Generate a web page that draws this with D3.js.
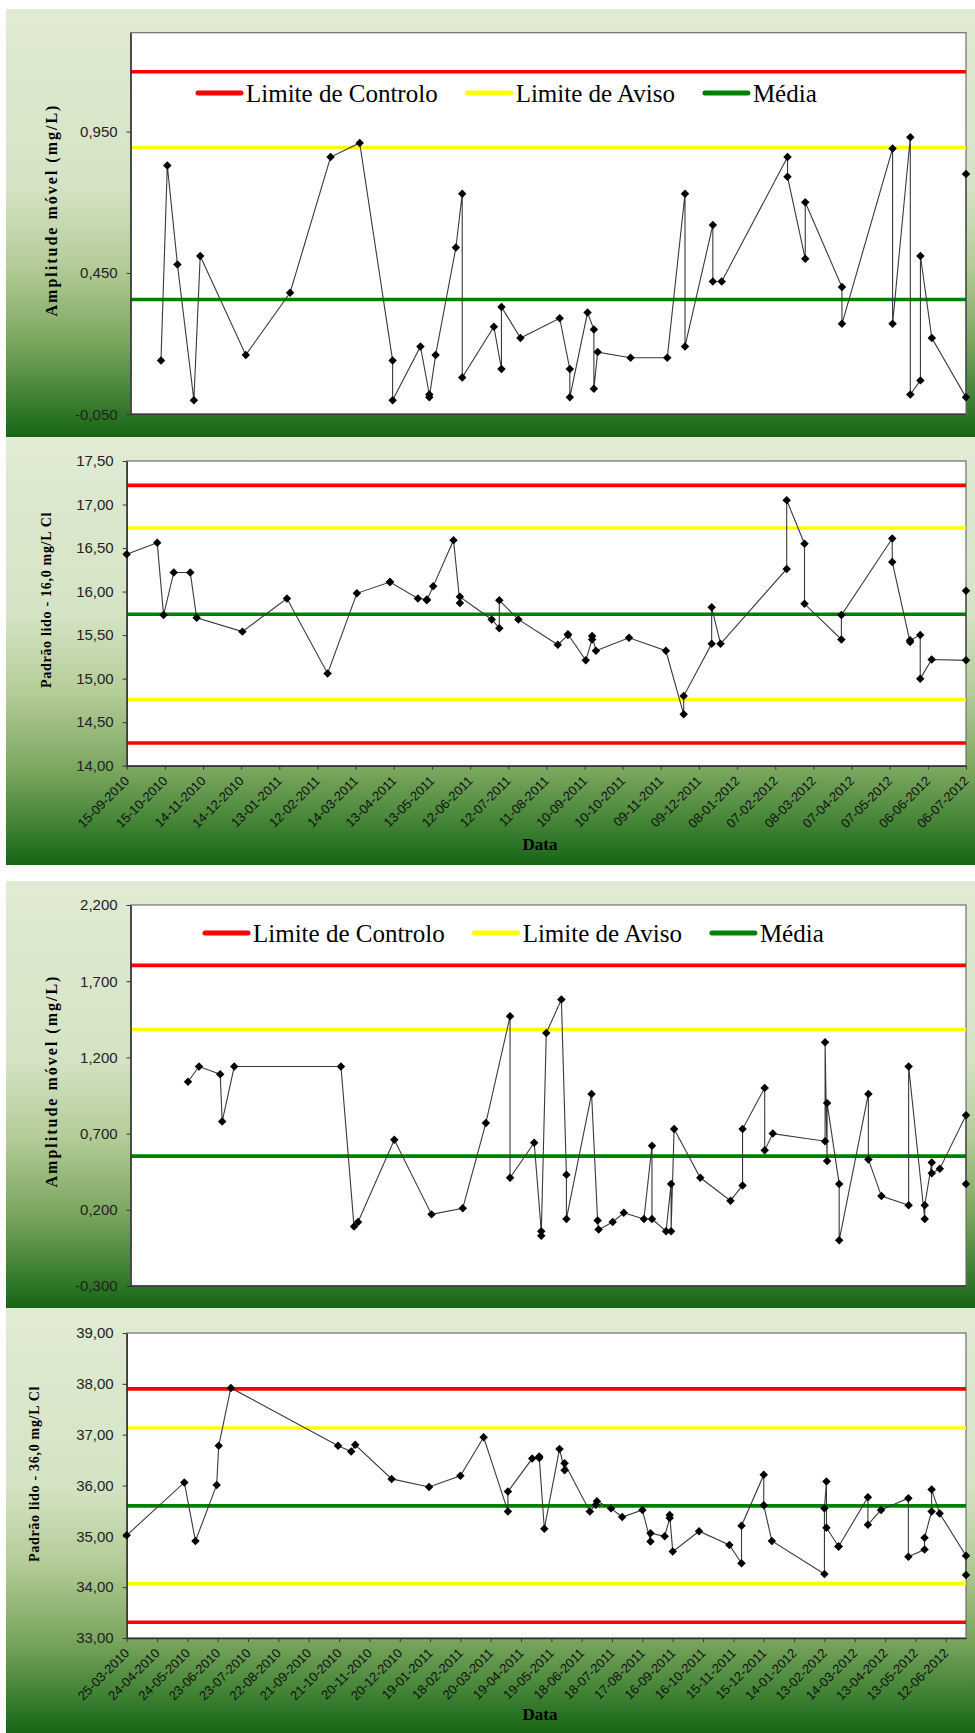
<!DOCTYPE html>
<html>
<head>
<meta charset="utf-8">
<script src="https://cdnjs.cloudflare.com/ajax/libs/d3/7.8.5/d3.min.js"></script>
<style>
  body { margin: 0; background: #fff; }
  svg { display: block; }
</style>
</head>
<body>
<div id="chart"></div>
<script>
// ---- data ----
// padrão 16,0 mg/L Cl
const dates16 = ["15-09-2010","09-10-2010","14-10-2010","22-10-2010","04-11-2010","09-11-2010","15-12-2010","19-01-2011","20-02-2011","15-03-2011",
  "10-04-2011","10-04-2011","02-05-2011","09-05-2011","09-05-2011","14-05-2011","30-05-2011","04-06-2011","04-06-2011","29-06-2011",
  "05-07-2011","05-07-2011","20-07-2011","20-08-2011","28-08-2011","28-08-2011","11-09-2011","16-09-2011","16-09-2011","19-09-2011",
  "15-10-2011","13-11-2011","27-11-2011","27-11-2011","19-12-2011","19-12-2011","26-12-2011","16-02-2012","16-02-2012","01-03-2012",
  "01-03-2012","30-03-2012","30-03-2012","09-05-2012","09-05-2012","23-05-2012","23-05-2012","31-05-2012","31-05-2012","09-06-2012",
  "06-07-2012","06-07-2012"];
const readings16 = [16.43,16.56,15.73,16.22,16.22,15.70,15.54,15.92,15.06,15.98,
  16.11,16.11,15.92,15.91,15.90,16.06,16.59,15.87,15.94,15.68,
  15.58,15.90,15.68,15.39,15.50,15.51,15.21,15.45,15.49,15.32,
  15.47,15.32,14.59,14.80,15.40,15.82,15.40,16.26,17.05,16.55,
  15.86,15.45,15.73,16.61,16.34,15.42,15.44,15.50,15.00,15.22,
  15.21,16.01];
// amplitude móvel, one per reading from the second one on
const mr16 = [0.14,0.83,0.48,0.00,0.51,0.16,0.38,0.86,0.91,0.14,
  0.00,0.19,0.02,0.01,0.16,0.54,0.73,0.08,0.26,0.11,
  0.33,0.22,0.29,0.11,0.01,0.31,0.25,0.04,0.17,0.15,
  0.15,0.73,0.19,0.62,0.42,0.42,0.86,0.79,0.50,0.70,
  0.40,0.27,0.89,0.27,0.93,0.02,0.07,0.51,0.22,0.01,
  0.80];
const ctrl16 = [14.26, 17.22], warn16 = [14.76, 16.73], mean16 = 15.74;
const ctrlMr16 = 1.162, warnMr16 = 0.894, meanMr16 = 0.356;
const yTicks16 = [14.0,14.5,15.0,15.5,16.0,16.5,17.0,17.5];
const yTicksMr16 = [-0.05, 0.45, 0.95];
const xTicks16 = ["15-09-2010","15-10-2010","14-11-2010","14-12-2010","13-01-2011","12-02-2011","14-03-2011","13-04-2011",
  "13-05-2011","12-06-2011","12-07-2011","11-08-2011","10-09-2011","10-10-2011","09-11-2011","09-12-2011",
  "08-01-2012","07-02-2012","08-03-2012","07-04-2012","07-05-2012","06-06-2012","06-07-2012"];

// padrão 36,0 mg/L Cl
const dates36 = ["25-03-2010","21-05-2010","01-06-2010","22-06-2010","24-06-2010","06-07-2010","20-10-2010","02-11-2010","06-11-2010","12-12-2010",
  "18-01-2011","18-02-2011","13-03-2011","06-04-2011","06-04-2011","30-04-2011","07-05-2011","07-05-2011","12-05-2011","27-05-2011",
  "01-06-2011","01-06-2011","26-06-2011","02-07-2011","03-07-2011","17-07-2011","28-07-2011","17-08-2011","25-08-2011","25-08-2011",
  "08-09-2011","13-09-2011","13-09-2011","16-09-2011","12-10-2011","11-11-2011","23-11-2011","23-11-2011","15-12-2011","15-12-2011",
  "23-12-2011","13-02-2012","13-02-2012","15-02-2012","15-02-2012","27-02-2012","27-02-2012","27-03-2012","27-03-2012","09-04-2012",
  "06-05-2012","06-05-2012","22-05-2012","22-05-2012","29-05-2012","29-05-2012","06-06-2012","02-07-2012","02-07-2012"];
const readings36 = [35.02,36.06,34.91,36.01,36.78,37.92,36.78,36.67,36.80,36.13,
  35.97,36.19,36.95,35.49,35.88,36.53,36.57,36.54,35.15,36.72,
  36.30,36.44,35.49,35.62,35.69,35.55,35.38,35.52,34.90,35.06,
  35.00,35.36,35.42,34.70,35.10,34.83,34.47,35.21,36.21,35.61,
  34.91,34.26,35.55,36.08,35.17,34.80,34.80,35.77,35.23,35.52,
  35.75,34.60,34.74,34.97,35.49,35.92,35.45,34.62,34.24];
const mr36 = [1.04,1.14,1.09,0.78,1.14,1.14,0.09,0.12,0.66,
  0.17,0.21,0.77,1.47,0.41,0.64,0.06,0.03,1.36,1.58,
  0.43,0.14,0.96,0.13,0.07,0.12,0.18,0.14,0.62,0.14,
  0.06,0.37,0.06,0.73,0.41,0.26,0.36,0.73,1.00,0.59,
  0.70,0.65,1.30,0.52,0.90,0.37,0.00,0.96,0.53,0.29,
  0.23,1.14,0.14,0.23,0.51,0.44,0.47,0.82,0.37];
const ctrl36 = [33.31, 37.90], warn36 = [34.07, 37.13], mean36 = 35.60;
const ctrlMr36 = 1.804, warnMr36 = 1.384, meanMr36 = 0.552;
const yTicks36 = [33,34,35,36,37,38,39];
const yTicksMr36 = [-0.3,0.2,0.7,1.2,1.7,2.2];
const xTicks36 = ["25-03-2010","24-04-2010","24-05-2010","23-06-2010","23-07-2010","22-08-2010","21-09-2010","21-10-2010",
  "20-11-2010","20-12-2010","19-01-2011","18-02-2011","20-03-2011","19-04-2011","19-05-2011","18-06-2011",
  "18-07-2011","17-08-2011","16-09-2011","16-10-2011","15-11-2011","15-12-2011","14-01-2012","13-02-2012",
  "14-03-2012","13-04-2012","13-05-2012","12-06-2012"];

const legendItems = [["Limite de Controlo", "#ff0000"], ["Limite de Aviso", "#ffff00"], ["Média", "#008000"]];

// ---- drawing ----
const W = 975, H = 1733;
const parse = d3.timeParse("%d-%m-%Y");
const pt = d3.formatLocale({decimal: ",", thousands: ".", grouping: [3], currency: ["", ""], minus: "-"});

const svg = d3.select("#chart").append("svg").attr("width", W).attr("height", H);

const grad = svg.append("defs").append("linearGradient")
  .attr("id", "bg").attr("x1", 0).attr("y1", 0).attr("x2", 0).attr("y2", 1);
[[0, "#e0ebd3"], [0.42, "#d4e3c4"], [0.6, "#b4cc98"], [0.78, "#7aa65e"], [0.9, "#448437"], [1, "#166515"]]
  .forEach(s => grad.append("stop").attr("offset", s[0]).attr("stop-color", s[1]));

function panel(p) {
  const g = svg.append("g");
  g.append("rect")
    .attr("x", 6).attr("y", p.top).attr("width", W - 6).attr("height", p.bottom - p.top)
    .attr("fill", "url(#bg)");

  const x = d3.scaleTime().domain([parse(p.dates[0]), parse(p.dates[p.dates.length - 1])]).range([p.l, p.r]);
  if (p.xStart) x.domain([parse(p.xStart), parse(p.xEnd)]);
  const y = d3.scaleLinear().domain(p.yDomain).range([p.b, p.t]);

  g.append("rect")
    .attr("x", p.l).attr("y", p.t).attr("width", p.r - p.l).attr("height", p.b - p.t)
    .attr("fill", "#fff").attr("stroke", "#6e6e6e").attr("stroke-width", 1.2);

  // control / warning / mean lines
  p.limits.forEach(([v, c]) => {
    g.append("line")
      .attr("x1", p.l).attr("x2", p.r).attr("y1", y(v)).attr("y2", y(v))
      .attr("stroke", c).attr("stroke-width", 3.6);
  });

  // y axis
  const ya = g.append("g").attr("transform", `translate(${p.l},0)`)
    .call(d3.axisLeft(y).tickValues(p.yTicks).tickFormat(pt.format(p.fmt)).tickSize(4).tickSizeOuter(0).tickPadding(9));
  ya.select(".domain").attr("stroke", "#333").attr("stroke-width", 1.5);
  ya.selectAll(".tick line").attr("stroke", "#333");
  ya.selectAll("text").attr("font-family", "Liberation Sans, Arial, sans-serif").attr("font-size", 15).attr("fill", "#222");

  // x axis
  if (p.xTicks) {
    const xa = g.append("g").attr("transform", `translate(0,${p.b})`)
      .call(d3.axisBottom(x).tickValues(p.xTicks.map(parse)).tickFormat(d3.timeFormat("%d-%m-%Y")).tickSize(4).tickSizeOuter(0));
    xa.select(".domain").attr("stroke", "#333").attr("stroke-width", 1.5);
    xa.selectAll(".tick line").attr("stroke", "#333");
    xa.selectAll("text")
      .attr("font-family", "Liberation Sans, Arial, sans-serif").attr("font-size", 13).attr("fill", "#111")
      .attr("text-anchor", "end").attr("y", 0).attr("dy", 0)
      .attr("transform", "translate(3,16) rotate(-45)");
    g.append("text").text("Data")
      .attr("x", 540).attr("y", p.dataY).attr("text-anchor", "middle")
      .attr("font-family", "Liberation Serif, Times New Roman, serif").attr("font-weight", "bold").attr("font-size", 17);
  } else {
    g.append("line").attr("x1", p.l).attr("x2", p.r).attr("y1", p.b).attr("y2", p.b)
      .attr("stroke", "#333").attr("stroke-width", 1.5);
  }

  // series
  const pts = p.dates.map((d, i) => ({d: parse(d), v: p.values[i]}));
  g.append("path").datum(pts)
    .attr("d", d3.line().x(d => x(d.d)).y(d => y(d.v)))
    .attr("fill", "none").attr("stroke", "#3a3a3a").attr("stroke-width", 1.1);
  g.selectAll(".pt").data(pts).join("path")
    .attr("d", d3.symbol(d3.symbolSquare, 36))
    .attr("transform", d => `translate(${x(d.d)},${y(d.v)}) rotate(45)`)
    .attr("fill", "#000");

  // legend
  if (p.legendY) {
    let cx = p.legendX;
    legendItems.forEach(([label, c]) => {
      g.append("line").attr("x1", cx).attr("x2", cx + 43).attr("y1", p.legendY).attr("y2", p.legendY)
        .attr("stroke", c).attr("stroke-width", 5).attr("stroke-linecap", "round");
      const t = g.append("text").text(label)
        .attr("x", cx + 48).attr("y", p.legendY + 8.5)
        .attr("font-family", "Liberation Serif, Times New Roman, serif").attr("font-size", 25).attr("fill", "#000");
      cx += 48 + t.node().getComputedTextLength() + 30;
    });
  }

  // y title
  g.append("text").text(p.title)
    .attr("transform", `translate(${p.titleX},${p.titleY}) rotate(-90)`)
    .attr("text-anchor", "middle")
    .attr("font-family", "Liberation Serif, Times New Roman, serif").attr("font-weight", "bold")
    .attr("font-size", p.titleSize).attr("letter-spacing", p.titleSpacing);
}

panel({top: 9, bottom: 437, l: 130.6, r: 966, t: 32.7, b: 414.3,
  dates: dates16.slice(1), values: mr16, xStart: dates16[0], xEnd: dates16[dates16.length - 1],
  yDomain: [-0.05, 1.30], yTicks: yTicksMr16, fmt: ".3f",
  limits: [[ctrlMr16, "#ff0000"], [warnMr16, "#ffff00"], [meanMr16, "#008000"]],
  legendY: 93, legendX: 198,
  title: "Amplitude móvel (mg/L)", titleX: 57, titleY: 210, titleSize: 16, titleSpacing: 2});

panel({top: 437, bottom: 865, l: 126.7, r: 966, t: 461, b: 765.7,
  dates: dates16, values: readings16,
  yDomain: [14, 17.5], yTicks: yTicks16, fmt: ".2f",
  limits: [[ctrl16[0], "#ff0000"], [ctrl16[1], "#ff0000"], [warn16[0], "#ffff00"], [warn16[1], "#ffff00"], [mean16, "#008000"]],
  xTicks: xTicks16, dataY: 850,
  title: "Padrão lido - 16,0 mg/L Cl", titleX: 51, titleY: 600, titleSize: 14, titleSpacing: 0.7});

panel({top: 881, bottom: 1308, l: 130.6, r: 966, t: 905, b: 1286,
  dates: dates36.slice(1), values: mr36, xStart: dates36[0], xEnd: dates36[dates36.length - 1],
  yDomain: [-0.3, 2.2], yTicks: yTicksMr36, fmt: ".3f",
  limits: [[ctrlMr36, "#ff0000"], [warnMr36, "#ffff00"], [meanMr36, "#008000"]],
  legendY: 933, legendX: 205,
  title: "Amplitude móvel (mg/L)", titleX: 57, titleY: 1081, titleSize: 16, titleSpacing: 2});

panel({top: 1308, bottom: 1733, l: 126.7, r: 966, t: 1333, b: 1638,
  dates: dates36, values: readings36,
  yDomain: [33, 39], yTicks: yTicks36, fmt: ".2f",
  limits: [[ctrl36[0], "#ff0000"], [ctrl36[1], "#ff0000"], [warn36[0], "#ffff00"], [warn36[1], "#ffff00"], [mean36, "#008000"]],
  xTicks: xTicks36, dataY: 1720,
  title: "Padrão lido - 36,0 mg/L Cl", titleX: 39, titleY: 1474, titleSize: 14, titleSpacing: 0.7});
</script>
</body>
</html>
